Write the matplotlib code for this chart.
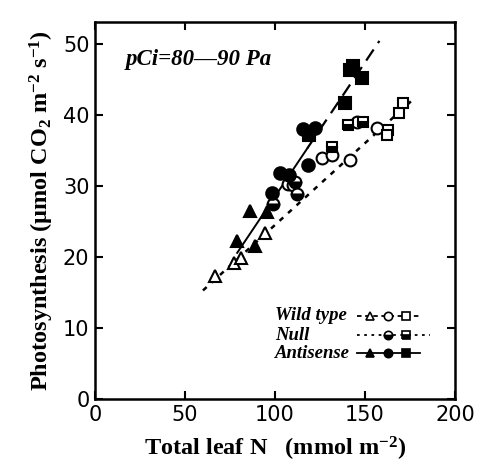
import matplotlib
matplotlib.use('Agg')
import matplotlib.pyplot as plt
import numpy as np

# ---- data ----
wt_tri_x = [66.7, 77.2, 81.1, 94.4]
wt_tri_y = [17.4, 19.2, 19.8, 23.4]
wt_cir_x = [107.0, 110.0, 126.0, 131.7, 141.7, 145.6, 156.7]
wt_cir_y = [30.3, 30.1, 33.9, 34.3, 33.6, 39.0, 38.1]
wt_sq_x = [162.8, 162.2, 168.9, 171.1]
wt_sq_y = [37.9, 37.1, 40.3, 41.7]

null_cir_x = [98.9, 111.0, 112.2]
null_cir_y = [27.5, 30.6, 28.8]
null_sq_x = [131.7, 140.6, 148.9]
null_sq_y = [35.5, 38.6, 39.0]

as_tri_x = [78.9, 88.9, 86.1, 95.6]
as_tri_y = [22.3, 21.6, 26.4, 26.3]
as_cir_x = [98.3, 102.8, 107.8, 118.3, 115.6, 122.2]
as_cir_y = [29.0, 31.8, 31.5, 32.9, 38.0, 38.1]
as_sq_x = [119.0, 138.9, 141.7, 143.3, 148.3]
as_sq_y = [37.2, 41.7, 46.3, 46.8, 45.2]

# regression lines (slope, intercept, x range)
as_fit = (0.377, -9.2)
as_solid_range = (79, 118)
as_dash_range = (118, 158)
wt_fit = (0.230, 1.5)
wt_range = (60, 178)

plt.rcParams['font.family'] = ['DejaVu Sans']
plt.rcParams['mathtext.fontset'] = 'custom'
plt.rcParams['mathtext.rm'] = 'Liberation Serif:bold'
plt.rcParams['mathtext.it'] = 'Liberation Serif:bold:italic'
plt.rcParams['mathtext.bf'] = 'Liberation Serif:bold'
serif = ['Liberation Serif', 'DejaVu Serif']

fig = plt.figure(figsize=(4.82, 4.72), dpi=100)
ax = fig.add_axes([0.197, 0.154, 0.747, 0.799])

def fit_line(fit, rng):
    xs = np.array(rng, dtype=float)
    return xs, fit[0] * xs + fit[1]

x, y = fit_line(wt_fit, wt_range)
ax.plot(x, y, color='black', lw=1.8, ls=(0, (2.0, 2.6)), zorder=1)
x, y = fit_line(as_fit, as_solid_range)
ax.plot(x, y, color='black', lw=1.4, ls='-', zorder=1)
x, y = fit_line(as_fit, as_dash_range)
ax.plot(x, y, color='black', lw=1.6, ls=(0, (6, 3.5)), zorder=1)

mk = dict(ls='none', mec='black', mew=1.5, zorder=3)
ax.plot(wt_tri_x, wt_tri_y, marker='^', ms=8.5, mfc='white', **mk)
ax.plot(wt_cir_x, wt_cir_y, marker='o', ms=8.5, mfc='white', **mk)
ax.plot(wt_sq_x, wt_sq_y, marker='s', ms=7.8, mfc='white', **mk)
ax.plot(null_cir_x, null_cir_y, marker='o', ms=8.5, mfc='black',
        fillstyle='bottom', markerfacecoloralt='white', **mk)
ax.plot(null_sq_x, null_sq_y, marker='s', ms=7.8, mfc='black',
        fillstyle='bottom', markerfacecoloralt='white', **mk)
ax.plot(as_tri_x, as_tri_y, marker='^', ms=9, mfc='black', **mk)
ax.plot(as_cir_x, as_cir_y, marker='o', ms=9, mfc='black', **mk)
ax.plot(as_sq_x, as_sq_y, marker='s', ms=8.5, mfc='black', **mk)

ax.set_xlim(0, 200)
ax.set_ylim(0, 53)
ax.set_xticks([0, 50, 100, 150, 200])
ax.set_yticks([0, 10, 20, 30, 40, 50])
ax.tick_params(direction='in', length=6, width=1.5, top=True, right=True,
               labelsize=15, pad=4)
for s in ax.spines.values():
    s.set_linewidth(1.8)

ax.set_xlabel('Total leaf N   (mmol m$^{-2}$)', fontsize=17.5, fontweight='bold',
              family=serif, labelpad=7)
ax.set_ylabel('Photosynthesis (\u03bcmol CO$_2$ m$^{-2}$ s$^{-1}$)', fontsize=17.5,
              fontweight='bold', family=serif, labelpad=5)

ax.text(0.085, 0.9, 'pCi=80\u201490 Pa', transform=ax.transAxes, fontsize=16.5,
        fontweight='bold', style='italic', family=serif, va='center')

# legend drawn by hand in axes coordinates
leg_rows = [
    ('Wild type', 0.222, ['^', 'o', 's'], 'white', 'full', (0, (2.5, 2))),
    ('Null', 0.170, [None, 'o', 's'], 'black', 'bottom', (0, (1.5, 2.5))),
    ('Antisense', 0.122, ['^', 'o', 's'], 'black', 'full', '-'),
]
for label, yy, markers, fc, fs, lstyle in leg_rows:
    ax.text(0.50, yy, label, transform=ax.transAxes, fontsize=13.5,
            fontweight='bold', style='italic', family=serif, va='center')
    ax.plot([0.728, 0.903 if label != 'Null' else 0.93], [yy, yy],
            transform=ax.transAxes, color='black', lw=1.3, ls=lstyle, zorder=2)
    xs = [0.765, 0.815, 0.865]
    for xm, m in zip(xs, markers):
        if m is None:
            continue
        ax.plot([xm], [yy], transform=ax.transAxes, marker=m, ms=6,
                mfc=fc, mec='black', mew=1.2, fillstyle=fs,
                markerfacecoloralt='white', ls='none', zorder=3)

fig.savefig('out.png', dpi=100)
